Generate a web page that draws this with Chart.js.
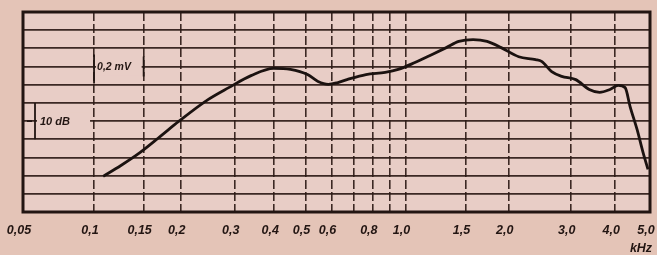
<!DOCTYPE html>
<html>
<head>
<meta charset="utf-8">
<script src="https://cdn.jsdelivr.net/npm/chart.js@4/dist/chart.umd.min.js"></script>
<style>
  html, body { margin: 0; padding: 0; background: #e4c4b7; }
  canvas { display: block; }
</style>
</head>
<body>
<canvas id="chart" width="657" height="255"></canvas>
<script>
// frequency axis (kHz), grid lines and their printed labels
const tickValues = [0.05, 0.1, 0.15, 0.2, 0.3, 0.4, 0.5, 0.6, 0.7, 0.8, 0.9, 1.0, 1.5, 2.0, 3.0, 4.0, 5.0];
const tickLabels = ['0,05', '0,1', '0,15', '0,2', '0,3', '0,4', '0,5', '0,6', '', '0,8', '', '1,0', '1,5', '2,0', '3,0', '4,0', '5,0'];

// response curve, level in dB relative to 0,2 mV
const freqs = [0.108, 0.125, 0.146, 0.171, 0.197, 0.246, 0.287, 0.338, 0.398, 0.449,
               0.507, 0.546, 0.587, 0.628, 0.669, 0.763, 0.871, 0.952, 1.067, 1.16,
               1.319, 1.434, 1.578, 1.732, 1.901, 2.135, 2.386, 2.481, 2.65, 2.829,
               3.10, 3.383, 3.618, 3.868, 4.077, 4.264, 4.402, 4.603, 4.782, 4.937];
const levels = [-30.2, -27.2, -23.6, -19.2, -15.1, -9.1, -5.8, -2.5, -0.5, -0.8,
                -2.2, -4.1, -4.9, -4.4, -3.6, -2.2, -1.6, -0.8, 1.1, 2.7,
                5.2, 6.9, 7.4, 6.9, 5.2, 2.7, 1.9, 1.4, -1.4, -2.7,
                -3.6, -6.3, -7.1, -6.3, -5.2, -5.8, -11.0, -17.3, -23.6, -28.3];

const INK = '#221512';
const GRID = 'rgba(45, 26, 22, 0.92)';
const PAPER = '#e8cdc6';
const LABEL_FONT = 'italic bold 12.5px "Liberation Sans", Arial, sans-serif';

// The printed chart paper is not quite a pure log scale (the low end is squeezed),
// so bend the log decimal a little before turning it into pixels.
const GAMMA = 1.15;
class PaperLogScale extends Chart.LogarithmicScale {
    getPixelForDecimal(d) {
        return super.getPixelForDecimal(d > 0 ? Math.pow(d, GAMMA) : d);
    }
    getDecimalForPixel(p) {
        const d = super.getDecimalForPixel(p);
        return d > 0 ? Math.pow(d, 1 / GAMMA) : d;
    }
}
PaperLogScale.id = 'paperlog';
PaperLogScale.defaults = Chart.LogarithmicScale.defaults;
Chart.register(PaperLogScale);

// paper background, frame and the hand lettered marks
const paperPlugin = {
    id: 'paper',
    beforeDraw(chart) {
        const { ctx, chartArea: a } = chart;
        ctx.save();
        ctx.fillStyle = '#e4c4b7';
        ctx.fillRect(0, 0, chart.width, chart.height);
        ctx.fillStyle = PAPER;
        ctx.fillRect(a.left, a.top, a.right - a.left, a.bottom - a.top);
        ctx.restore();
    },
    afterDraw(chart) {
        const { ctx, chartArea: a } = chart;
        const x = chart.scales.x, y = chart.scales.y;
        ctx.save();

        // 0,2 mV reference mark
        const x1 = x.getPixelForValue(0.1), x2 = x.getPixelForValue(0.15);
        const y0 = y.getPixelForValue(0);
        ctx.fillStyle = PAPER;
        ctx.fillRect(x1 + 2, y0 - 9, x2 - x1 - 4, 18);
        ctx.strokeStyle = INK;
        ctx.lineWidth = 1.8;
        ctx.beginPath();
        ctx.moveTo(x1, y0 - 12); ctx.lineTo(x1, y0 + 17);
        ctx.moveTo(x2, y0 - 10); ctx.lineTo(x2, y0 + 10);
        ctx.stroke();
        ctx.fillStyle = INK;
        ctx.font = 'italic bold 10.5px "Liberation Sans", Arial, sans-serif';
        ctx.textBaseline = 'middle';
        ctx.textAlign = 'left';
        ctx.fillText('0,2 mV', x1 + 3, y0 + 1);

        // 10 dB bracket
        const bx = a.left + 12;
        const yt = y.getPixelForValue(-10), yb = y.getPixelForValue(-20), ym = y.getPixelForValue(-15);
        ctx.fillStyle = PAPER;
        ctx.fillRect(bx + 2, ym - 9, x1 - bx - 6, 18);
        ctx.strokeStyle = INK;
        ctx.lineWidth = 1.8;
        ctx.beginPath();
        ctx.moveTo(bx, yt); ctx.lineTo(bx, yb);
        ctx.moveTo(a.left + 4, ym); ctx.lineTo(a.left + 9, ym);
        ctx.stroke();
        ctx.fillStyle = INK;
        ctx.font = 'italic bold 11px "Liberation Sans", Arial, sans-serif';
        ctx.fillText('10 dB', bx + 5, ym + 1);

        // frame
        ctx.strokeStyle = INK;
        ctx.lineWidth = 3;
        ctx.strokeRect(a.left, a.top, a.right - a.left, a.bottom - a.top);

        // unit
        ctx.font = LABEL_FONT;
        ctx.textAlign = 'center';
        ctx.fillText('kHz', a.right - 9, a.bottom + 37);
        ctx.restore();
    }
};

new Chart(document.getElementById('chart'), {
    type: 'line',
    data: {
        datasets: [{
            data: freqs.map((f, i) => ({ x: f, y: levels[i] })),
            borderColor: '#1b1210',
            borderWidth: 2.8,
            pointRadius: 0,
            cubicInterpolationMode: 'monotone',
            fill: false
        }]
    },
    options: {
        responsive: false,
        animation: false,
        devicePixelRatio: 1,
        layout: { padding: { left: 23, top: 12, right: 7, bottom: 0 } },
        plugins: { legend: { display: false }, tooltip: { enabled: false } },
        scales: {
            x: {
                type: 'paperlog',
                min: 0.05,
                max: 5.0,
                afterBuildTicks: (scale) => {
                    scale.ticks = tickValues.map(v => ({ value: v }));
                },
                afterFit: (scale) => {
                    scale.height = 43;
                    scale.paddingLeft = 0;
                    scale.paddingRight = 0;
                },
                grid: { color: GRID, lineWidth: 1.6, drawTicks: false },
                border: { display: false, dash: [9, 3] },
                ticks: {
                    autoSkip: false,
                    maxRotation: 0,
                    padding: 11,
                    labelOffset: -4,
                    color: INK,
                    font: { family: '"Liberation Sans", Arial, sans-serif', size: 12.5, style: 'italic', weight: 'bold' },
                    callback: (value, index) => tickLabels[index]
                }
            },
            y: {
                type: 'linear',
                min: -40,
                max: 15,
                afterBuildTicks: (scale) => {
                    const t = [];
                    for (let v = -40; v <= 15; v += 5) t.push({ value: v });
                    scale.ticks = t;
                },
                afterFit: (scale) => { scale.width = 0; },
                grid: { color: GRID, lineWidth: 1.8, drawTicks: false },
                border: { display: false },
                ticks: { display: false }
            }
        }
    },
    plugins: [paperPlugin]
});
</script>
</body>
</html>
